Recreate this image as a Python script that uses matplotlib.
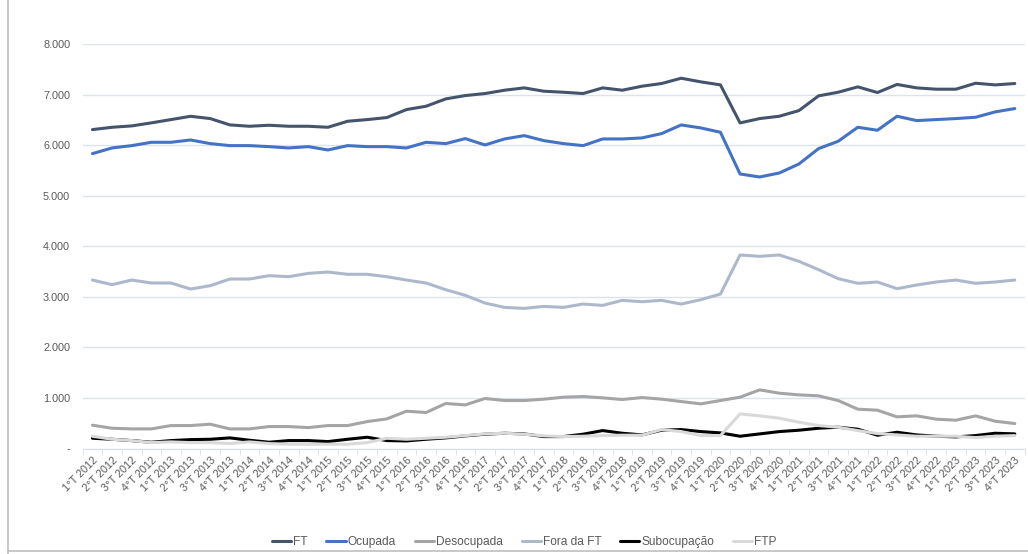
import matplotlib.pyplot as plt
from matplotlib.lines import Line2D
from matplotlib.ticker import FuncFormatter, FixedLocator

# -------------------------
# Data (milhares de pessoas)
# -------------------------
years = list(range(2012, 2024))
quarters = [f"{q}°T {y}" for y in years for q in range(1, 5)]

ft = [6307, 6353, 6380, 6440, 6505, 6570, 6525, 6400, 6373, 6393, 6373, 6373,
      6353, 6472, 6505, 6545, 6703, 6769, 6914, 6980, 7020, 7086, 7132, 7066,
      7046, 7020, 7132, 7086, 7165, 7218, 7323, 7251, 7191, 6439, 6525, 6571,
      6683, 6974, 7046, 7152, 7040, 7200, 7132, 7106, 7106, 7224, 7191, 7218]

ocupada = [5832, 5944, 5990, 6056, 6056, 6102, 6030, 5990, 5990, 5970, 5944, 5970,
           5904, 5990, 5970, 5970, 5944, 6056, 6030, 6129, 6003, 6122, 6188, 6089,
           6030, 5990, 6122, 6122, 6142, 6228, 6399, 6340, 6254, 5429, 5370, 5449,
           5627, 5931, 6076, 6353, 6294, 6571, 6485, 6505, 6525, 6551, 6657, 6723]

desocupada = [461, 401, 388, 388, 454, 454, 481, 388, 388, 434, 434, 414,
              454, 454, 533, 586, 738, 712, 890, 863, 989, 949, 949, 976,
              1015, 1028, 1002, 969, 1008, 976, 929, 883, 949, 1015, 1160, 1094,
              1061, 1042, 949, 778, 758, 626, 646, 580, 560, 646, 540, 494]

fora_ft = [3332, 3240, 3332, 3273, 3273, 3154, 3220, 3352, 3352, 3418, 3398, 3464,
           3490, 3445, 3445, 3398, 3332, 3273, 3141, 3029, 2877, 2791, 2771, 2811,
           2791, 2857, 2831, 2930, 2903, 2930, 2857, 2943, 3055, 3827, 3801, 3827,
           3702, 3537, 3359, 3267, 3293, 3161, 3234, 3293, 3332, 3267, 3293, 3332]

subocupacao = [203, 183, 157, 124, 157, 176, 183, 210, 164, 124, 157, 157,
               137, 183, 223, 157, 150, 183, 210, 250, 283, 302, 289, 236,
               236, 283, 355, 302, 269, 362, 375, 335, 309, 243, 289, 335,
               362, 401, 421, 382, 263, 322, 269, 243, 230, 256, 302, 289]

ftp = [243, 183, 157, 117, 131, 117, 117, 98, 131, 98, 85, 85,
       85, 85, 117, 203, 183, 203, 223, 256, 289, 302, 283, 250,
       236, 243, 256, 263, 263, 375, 335, 256, 256, 685, 646, 599,
       520, 454, 421, 355, 296, 269, 243, 243, 243, 216, 243, 256]

series = [
    ("FT", ft, "#44546A"),
    ("Ocupada", ocupada, "#4472C4"),
    ("Desocupada", desocupada, "#A5A5A5"),
    ("Fora da FT", fora_ft, "#ADB9CA"),
    ("Subocupação", subocupacao, "#000000"),
    ("FTP", ftp, "#D9D9D9"),
]

plt.rcParams['font.family'] = ['Liberation Sans', 'DejaVu Sans']

fig = plt.figure(figsize=(10.28, 5.54), dpi=100)
ax = fig.add_axes([0.0804, 0.1904, 0.9163, 0.7302])

x = list(range(len(quarters)))
for name, vals, color in series:
    ax.plot(x, vals, color=color, lw=2.2, label=name, solid_capstyle='round')

# -------------------------
# Axes styling
# -------------------------
ax.set_xlim(-0.5, len(quarters) - 0.5)
ax.set_ylim(0, 8000)
ax.set_yticks(range(0, 8001, 1000))
ax.yaxis.set_major_formatter(FuncFormatter(
    lambda v, p: "-" if v == 0 else f"{int(v):,}".replace(",", ".")))
ax.grid(axis='y', color='#DCE3EE', lw=1.0)
ax.set_axisbelow(True)

ax.set_xticks(x)
ax.set_xticklabels(quarters, rotation=45, ha='right', rotation_mode='anchor',
                   fontsize=7.8, color='#595959')
ax.xaxis.set_minor_locator(FixedLocator([i - 0.5 for i in range(len(quarters) + 1)]))
ax.tick_params(axis='x', which='major', length=0, pad=5)
ax.tick_params(axis='x', which='minor', length=4, color='#D9DEE8')
ax.tick_params(axis='y', length=0, labelsize=7.8, labelcolor='#595959', pad=9)

for side in ['top', 'right', 'left']:
    ax.spines[side].set_visible(False)
ax.spines['bottom'].set_color('#D9DEE8')

# -------------------------
# Legend and frame
# -------------------------
fig.legend(loc='center', bbox_to_anchor=(0.51, 0.022), ncol=6, frameon=False,
           fontsize=8.6, handlelength=1.6, handletextpad=0.15, columnspacing=1.6,
           labelcolor='#595959')

fig.add_artist(Line2D([0.008, 0.008], [0.0, 1.0], transform=fig.transFigure,
                      color='#BFBFBF', lw=1.2))
fig.add_artist(Line2D([0.008, 1.0], [0.005, 0.005], transform=fig.transFigure,
                      color='#BFBFBF', lw=1.2))

fig.savefig("out.png", dpi=100)
